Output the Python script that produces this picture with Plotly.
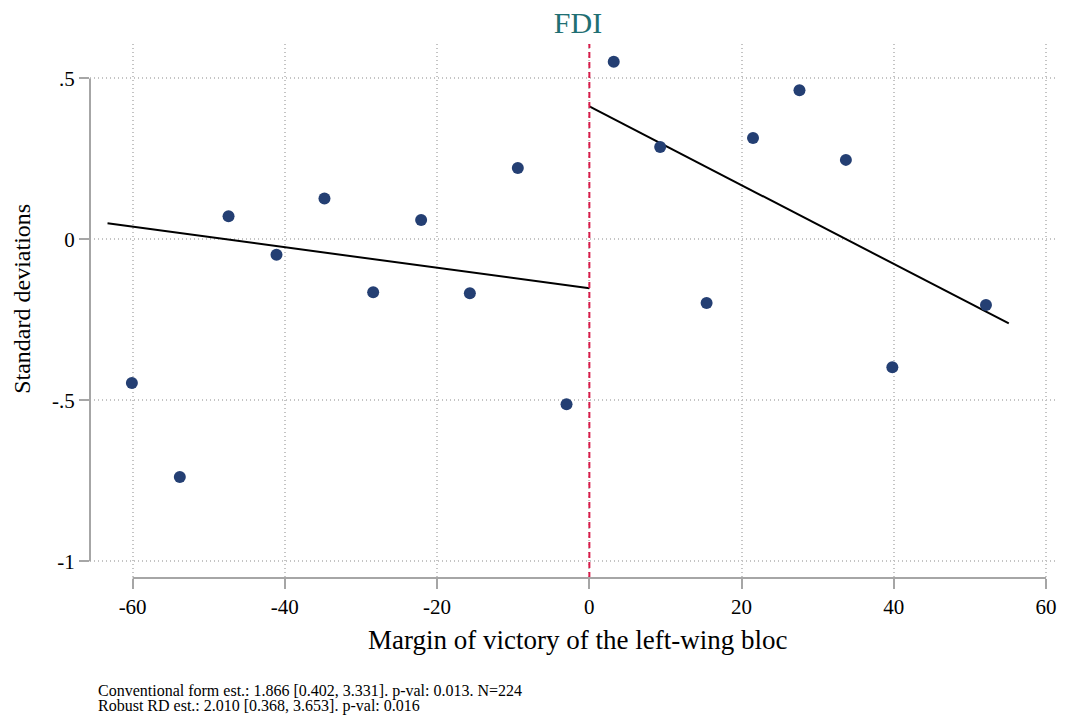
import plotly.graph_objects as go

# binned means, left of cutoff
left_x = [-60.1, -53.8, -47.4, -41.1, -34.8, -28.4, -22.1, -15.7, -9.4, -3.0]
left_y = [-0.446, -0.738, 0.072, -0.048, 0.127, -0.164, 0.060, -0.167, 0.222, -0.512]

# binned means, right of cutoff
right_x = [3.2, 9.3, 15.4, 21.5, 27.6, 33.7, 39.8, 52.1]
right_y = [0.552, 0.287, -0.198, 0.315, 0.463, 0.247, -0.397, -0.204]

# linear fits on each side
fit_left_x = [-63.3, 0]
fit_left_y = [0.050, -0.152]
fit_right_x = [0, 55.1]
fit_right_y = [0.413, -0.261]

x_ticks = [-60, -40, -20, 0, 20, 40, 60]
x_labels = ["-60", "-40", "-20", "0", "20", "40", "60"]
y_ticks = [0.5, 0, -0.5, -1]
y_labels = [".5", "0", "-.5", "-1"]

notes = [
    "Conventional form est.: 1.866 [0.402, 3.331]. p-val: 0.013. N=224",
    "Robust RD est.: 2.010 [0.368, 3.653]. p-val: 0.016",
]

SERIF = "Liberation Serif, Times New Roman, serif"
NAVY = "#243f73"
AXIS_GREY = "#a6a6a6"
GRID = "#c4c4c4"

fig = go.Figure()

for xs, ys in [(fit_left_x, fit_left_y), (fit_right_x, fit_right_y)]:
    fig.add_trace(go.Scatter(x=xs, y=ys, mode="lines",
                             line=dict(color="black", width=2),
                             hoverinfo="skip", showlegend=False))

for xs, ys in [(left_x, left_y), (right_x, right_y)]:
    fig.add_trace(go.Scatter(x=xs, y=ys, mode="markers",
                             marker=dict(color=NAVY, size=12),
                             showlegend=False))

# cutoff line
fig.add_shape(type="line", xref="x", yref="paper", x0=0, x1=0, y0=0, y1=1,
              line=dict(color="#d81b4a", width=2, dash="6px,4px"))

# Stata-style axis lines that only span the tick range
fig.add_shape(type="line", xref="x", yref="paper", x0=x_ticks[0], x1=x_ticks[-1], y0=0, y1=0,
              line=dict(color=AXIS_GREY, width=2))
fig.add_shape(type="line", xref="paper", yref="y", x0=0, x1=0, y0=min(y_ticks), y1=max(y_ticks),
              line=dict(color=AXIS_GREY, width=2))

# axis titles
fig.add_annotation(text="Margin of victory of the left-wing bloc", xref="paper", yref="paper",
                   x=0.5047, y=-0.116, xanchor="center", yanchor="middle", showarrow=False,
                   font=dict(family=SERIF, size=27, color="black"))
fig.add_annotation(text="Standard deviations", xref="paper", yref="paper",
                   x=-0.0703, y=0.523, textangle=-90, xanchor="center", yanchor="middle",
                   showarrow=False, font=dict(family=SERIF, size=24, color="black"))

for i, txt in enumerate(notes):
    fig.add_annotation(text=txt, xref="paper", yref="paper", x=0.0062, y=-0.2116 - i * 0.0281,
                       xanchor="left", yanchor="middle", showarrow=False,
                       font=dict(family=SERIF, size=16, color="black"))

fig.update_layout(
    width=1065, height=716,
    margin=dict(l=90, r=9, t=44, b=138),
    paper_bgcolor="white", plot_bgcolor="white",
    font=dict(family=SERIF, color="black"),
    title=dict(text="FDI", x=0.5427, xref="container", y=0.968, yanchor="middle",
               font=dict(family=SERIF, size=30, color="#1f6f73")),
    xaxis=dict(range=[-65.6, 61.3], tickvals=x_ticks, ticktext=x_labels,
               ticks="outside", ticklen=10, tickwidth=2, tickcolor=AXIS_GREY,
               showgrid=True, gridcolor=GRID, griddash="1px,3px", gridwidth=1.5,
               zeroline=False, showline=False,
               tickfont=dict(family=SERIF, size=21)),
    yaxis=dict(range=[-1.052, 0.607], tickvals=y_ticks, ticktext=y_labels,
               ticks="outside", ticklen=10, tickwidth=2, tickcolor=AXIS_GREY,
               showgrid=True, gridcolor=GRID, griddash="1px,3px", gridwidth=1.5,
               zeroline=False, showline=False,
               tickfont=dict(family=SERIF, size=21)),
)

# drop the browser's default page margin so the 1065x716 figure fills the window
fig.write_html("out.html", config={"displayModeBar": False},
               post_script="document.body.style.margin='0px';")
